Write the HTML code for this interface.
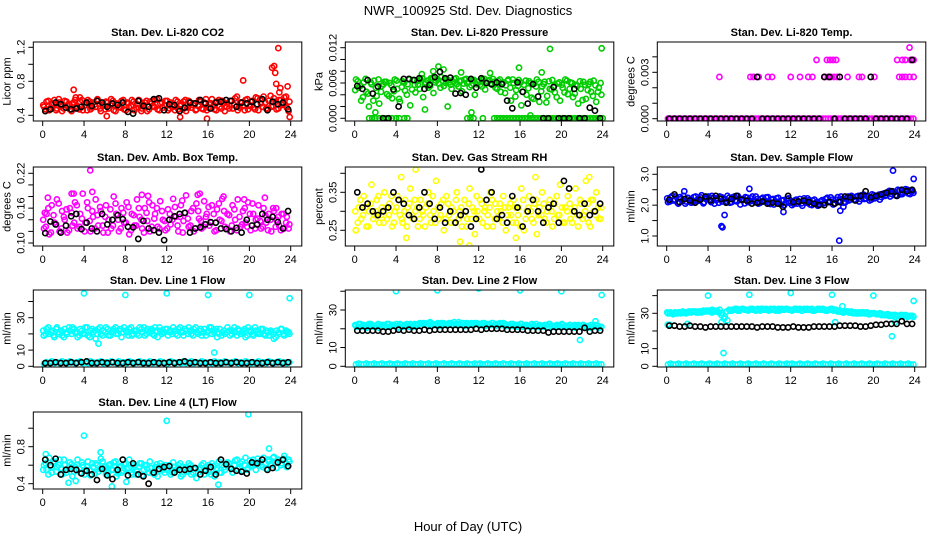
<!DOCTYPE html>
<html><head><meta charset="utf-8"><title>NWR_100925 Std. Dev. Diagnostics</title>
<style>
html,body{margin:0;padding:0;background:#fff;}
svg{display:block;font-family:"Liberation Sans",sans-serif;}
</style></head>
<body>
<svg id="chart" width="936" height="540" viewBox="0 0 936 540">
<text x="468" y="15" font-size="13" text-anchor="middle">NWR_100925  Std. Dev. Diagnostics</text>
<text x="468" y="531" font-size="13" text-anchor="middle">Hour of Day (UTC)</text>
</svg>
<script>
// ---- data ----
const xTicks = [0,4,8,12,16,20,24];

const co2Main = [.50,.56,.46,.53,.58,.48,.55,.45,.57,.51,.47,.54,.58,.49,.56,.46,.52,.58,.47,.55,.50,.57,.45,.53,.56,.48,.59,.46,.54,.50,.57,.47,.55,.49,.58,.46,.53,.57,.48,.55,.45,.56,.51,.58,.47,.54,.49,.57,.46,.55,.50,.58,.47,.53,.56,.45,.57,.49,.54,.47,.58,.48,.55,.46,.53,.59,.47,.56,.50,.57,.45,.54,.57,.48,.60,.46,.55,.51,.58,.47,.56,.49,.61,.46,.54,.62,.48,.57,.50,.60,.47,.58,.52,.61,.49,.56];
const co2Main2 = [.52,.47,.57,.49,.54,.46,.59,.51,.48,.56,.53,.45,.55,.50,.47,.58,.52,.46,.56,.49,.53,.59,.48,.51,.47,.55,.52,.57,.45,.53,.49,.58,.46,.54,.51,.56,.49,.58,.45,.52,.57,.47,.54,.50,.59,.46,.55,.52,.57,.48,.53,.46,.56,.51,.47,.58,.49,.55,.52,.46,.51,.56,.47,.59,.49,.54,.52,.46,.58,.48,.55,.50,.48,.57,.52,.62,.49,.55,.46,.59,.51,.57,.47,.60,.59,.50,.55,.47,.63,.51,.56,.48,.58,.53,.62,.45];
const co2OutT = [3,3.2,3.6,19.4,22.2,22.4,22.5,22.6,22.8,22.9,23.0,23.7,13.3,15.9,23.9,6.2];
const co2OutV = [.70,.61,.61,.81,.96,.98,.90,.77,1.19,.67,.72,.74,.38,.36,.38,.39];
const co2Black = [.45,.47,.55,.53,.49,.47,.48,.50,.55,.51,.57,.55,.50,.54,.52,.55,.44,.42,.57,.51,.50,.59,.60,.46,.53,.52,.45,.49,.55,.54,.58,.54,.48,.55,.56,.58,.57,.50,.55,.54,.56,.53,.59,.46,.56,.53,.55,.47];

const presMain = [.0066,.0052,.0030,.0061,.0045,.0020,.0058,.0064,.0038,.0025,.0055,.0062,.0041,.0060,.0034,.0066,.0050,.0028,.0063,.0047,.0058,.0022,.0065,.0044,.0057,.0066,.0036,.0061,.0052,.0068,.0043,.0064,.0059,.0070,.0055,.0066,.0061,.0050,.0067,.0058,.0063,.0046,.0066,.0060,.0053,.0065,.0040,.0062,.0057,.0066,.0049,.0063,.0059,.0067,.0052,.0064,.0045,.0061,.0056,.0066,.0030,.0060,.0048,.0065,.0022,.0057,.0040,.0063,.0035,.0059,.0066,.0028,.0054,.0062,.0038,.0050,.0065,.0044,.0059,.0030,.0052,.0066,.0041,.0061,.0036,.0057,.0025,.0050,.0062,.0033,.0058,.0045,.0064,.0028,.0052,.0040];
const presMain2 = [.0048,.0063,.0055,.0036,.0067,.0042,.0061,.0030,.0052,.0066,.0045,.0058,.0062,.0038,.0056,.0046,.0064,.0033,.0053,.0061,.0040,.0066,.0049,.0057,.0063,.0050,.0068,.0058,.0064,.0055,.0069,.0061,.0066,.0052,.0063,.0060,.0065,.0057,.0062,.0068,.0054,.0064,.0059,.0067,.0062,.0056,.0065,.0058,.0063,.0054,.0067,.0060,.0065,.0057,.0062,.0050,.0066,.0059,.0043,.0064,.0052,.0066,.0037,.0055,.0061,.0045,.0064,.0051,.0060,.0033,.0054,.0062,.0046,.0058,.0027,.0063,.0049,.0055,.0036,.0061,.0057,.0044,.0064,.0050,.0060,.0042,.0055,.0063,.0031,.0057,.0048,.0062,.0038,.0056,.0045,.0060];
const presZeroT = [1.4,1.7,2.0,2.4,2.7,3.0,3.3,3.6,4.0,4.3,4.8,5.1,10.9,11.2,11.5,12.4,13.5,13.8,14.1,14.4,14.7,15.0,15.3,15.6,15.9,16.2,16.5,16.8,17.1,17.4,17.7,18.0,18.3,18.6,18.9,19.2,19.5,19.8,20.1,20.4,20.7,21.0,21.3,21.6,21.9,22.2,22.5,22.8,23.1,23.4,23.7,24.0];
const presOutT = [6.5,7.6,8.1,8.6,10.3,13.1,15.9,18.1,18.9,23.9,2.0,6.8,9.0,11.3,17.0];
const presOutV = [.0075,.0080,.0088,.0083,.0078,.0077,.0086,.0078,.0118,.0119,.0010,.0015,.0020,.0010,.0005];
const presBlack = [.0055,.0050,.0065,.0042,.0054,.0000,.0000,.0049,.0020,.0067,.0067,.0065,.0068,.0050,.0057,.0070,.0079,.0068,.0069,.0042,.0043,.0040,.0067,.0052,.0068,.0060,.0058,.0061,.0058,.0030,.0017,.0061,.0045,.0025,.0058,.0037,.0000,.0000,.0053,.0000,.0000,.0000,.0050,.0000,.0000,.0018,.0013,.0000];

const tempMain = [0,0,0,0,0,0,0,0,0,0,0,0,0,0,0,0,0,0,0,0,0,0,0,0,0,0,0,0,0,0,0,0,0,0,0,0,0,0,0,0,0,0,0,0,0,0,0,0,0,0,0,0,0,0,0,0,0,0,0,0,0,0,0,0,0,0,0,0,0,0,0,0,0,0,0,0,0,0,0,0,0,0,0,0,0,0,0,0,0,0,0,0,0,0,0,0];
const tempLvlT = [5.1,8.1,8.4,8.9,9.8,10.2,12.0,12.9,13.7,14.1,15.3,15.6,15.9,16.2,16.5,17.5,18.6,18.9,20.1,22.5,22.8,23.1,23.5,23.9,14.5,15.5,15.8,16.1,16.4,22.3,22.8,23.1,23.6,23.9,23.5];
const tempLvlV = [.0027,.0027,.0027,.0027,.0027,.0027,.0027,.0027,.0027,.0027,.0027,.0027,.0027,.0027,.0027,.0027,.0027,.0027,.0027,.0027,.0027,.0027,.0027,.0027,.0038,.0038,.0038,.0038,.0038,.0038,.0038,.0038,.0038,.0038,.0046];
const tempBlack = [0,0,0,0,0,0,0,0,0,0,0,0,0,0,0,0,0,.0027,0,0,0,0,0,0,0,0,0,0,0,0,.0027,.0027,0,.0027,0,0,0,0,0,.0027,0,0,0,0,0,0,0,.0038];

const ambMain = [.125,.150,.115,.165,.135,.175,.120,.155,.140,.118,.160,.130,.170,.125,.150,.185,.135,.160,.120,.145,.175,.130,.155,.118,.165,.140,.125,.180,.150,.120,.160,.135,.170,.115,.150,.130,.175,.145,.125,.160,.138,.120,.165,.150,.128,.172,.140,.122,.158,.132,.176,.145,.120,.165,.138,.182,.128,.155,.120,.168,.142,.125,.172,.150,.130,.165,.120,.158,.140,.176,.128,.150,.120,.165,.140,.175,.128,.155,.135,.170,.122,.150,.140,.165,.125,.160,.135,.150,.120,.155,.140,.130,.150,.125,.145,.132];
const ambMain2 = [.140,.128,.160,.118,.148,.132,.168,.125,.145,.158,.122,.152,.135,.165,.128,.142,.120,.170,.138,.155,.125,.148,.162,.130,.145,.118,.158,.130,.168,.140,.125,.152,.135,.162,.122,.148,.130,.160,.140,.118,.152,.170,.128,.142,.160,.125,.155,.138,.125,.150,.140,.162,.130,.145,.118,.152,.142,.130,.160,.125,.155,.138,.128,.145,.162,.135,.150,.122,.168,.138,.155,.125,.148,.130,.158,.122,.145,.132,.160,.128,.150,.168,.125,.142,.138,.128,.148,.122,.140,.160,.128,.145,.122,.150,.135,.125];
const ambOutT = [.5,2.8,3.0,4.6,4.8,9.6,10.2,13.5,15.0,15.2,17.5,19.5,21.5,.2,22.6];
const ambOutV = [.178,.185,.185,.225,.188,.183,.181,.173,.183,.185,.180,.175,.178,.152,.160];
const ambBlack = [.117,.137,.132,.118,.130,.146,.150,.124,.135,.125,.120,.150,.132,.140,.148,.141,.128,.127,.107,.138,.125,.122,.118,.105,.140,.146,.150,.152,.118,.125,.127,.132,.136,.135,.125,.124,.120,.126,.118,.140,.130,.132,.150,.140,.145,.136,.125,.155];

const rhMain = [.25,.31,.28,.34,.26,.30,.37,.29,.33,.27,.31,.35,.28,.32,.26,.30,.34,.29,.27,.33,.31,.36,.28,.30,.26,.33,.29,.31,.35,.27,.30,.38,.28,.32,.25,.34,.29,.31,.27,.35,.30,.26,.33,.28,.36,.31,.24,.30,.33,.27,.31,.29,.35,.26,.32,.28,.30,.34,.25,.31,.29,.33,.27,.31,.36,.25,.30,.34,.28,.32,.24,.31,.35,.28,.30,.33,.26,.32,.29,.37,.27,.31,.34,.28,.30,.36,.26,.32,.29,.38,.27,.33,.30,.35,.28,.31];
const rhMain2 = [.30,.27,.33,.29,.31,.26,.32,.28,.30,.34,.29,.27,.31,.29,.34,.27,.31,.33,.28,.30,.26,.32,.29,.33,.31,.28,.30,.26,.32,.29,.34,.27,.31,.29,.33,.28,.32,.27,.30,.33,.28,.31,.29,.26,.32,.28,.30,.34,.28,.32,.30,.26,.31,.33,.28,.30,.32,.27,.31,.29,.32,.27,.31,.29,.26,.33,.28,.31,.30,.27,.33,.29,.29,.32,.27,.31,.30,.28,.34,.29,.31,.27,.30,.32,.27,.31,.29,.33,.28,.30,.32,.26,.33,.29,.31,.28];
const rhOutT = [4.5,5.9,11.1,15.6,17.5,10.2,.1,22.7,5.0];
const rhOutV = [.39,.41,.21,.23,.39,.22,.25,.39,.23];
const rhBlack = [.35,.31,.32,.30,.29,.30,.31,.35,.33,.32,.29,.28,.31,.35,.32,.28,.31,.27,.30,.27,.29,.30,.26,.28,.41,.33,.35,.28,.29,.27,.34,.31,.26,.30,.33,.30,.27,.31,.32,.27,.38,.36,.30,.29,.32,.29,.30,.32];

const sfMain = [2.10,2.25,2.15,2.28,2.05,2.20,2.30,2.12,2.22,2.08,2.26,2.15,2.20,2.32,2.10,2.24,2.18,2.30,2.05,2.22,2.28,2.12,2.20,2.30,2.08,2.25,2.15,2.30,2.02,2.20,2.26,2.10,2.22,2.15,2.28,2.05,2.20,2.12,2.25,2.08,2.18,2.02,2.22,2.10,2.15,2.00,2.20,2.08,2.00,2.15,2.05,2.20,1.98,2.12,2.22,2.02,2.15,2.05,1.98,2.12,2.05,2.20,2.10,2.25,2.02,2.18,2.12,2.28,2.08,2.22,2.15,2.30,2.18,2.28,2.12,2.32,2.20,2.30,2.15,2.35,2.22,2.30,2.18,2.36,2.30,2.42,2.28,2.45,2.32,2.50,2.35,2.40,2.52,2.38,2.45,2.40];
const sfMain2 = [2.22,2.12,2.30,2.18,2.08,2.26,2.15,2.05,2.24,2.18,2.10,2.28,2.14,2.25,2.06,2.20,2.28,2.10,2.24,2.16,2.08,2.26,2.18,2.12,2.24,2.10,2.28,2.12,2.22,2.16,2.06,2.24,2.12,2.28,2.10,2.20,2.08,2.24,2.14,2.26,2.04,2.20,2.12,2.24,2.02,2.16,2.08,2.22,2.12,2.04,2.18,2.10,2.06,2.22,2.08,2.16,2.00,2.18,2.10,2.04,2.16,2.08,2.24,2.12,2.18,2.06,2.26,2.14,2.20,2.10,2.28,2.18,2.26,2.16,2.30,2.20,2.34,2.22,2.28,2.18,2.32,2.24,2.34,2.26,2.38,2.32,2.46,2.36,2.42,2.30,2.48,2.36,2.44,2.50,2.36,2.46];
const sfOutT = [5.3,5.4,5.6,16.7,21.9,23.9,8.0,11.3,16.8,17.1,1.7];
const sfOutV = [1.32,1.28,1.68,.85,3.12,2.85,2.53,1.78,1.82,1.95,2.45];
const sfBlack = [2.18,2.35,2.10,2.20,2.15,2.08,2.18,2.28,2.15,2.30,2.20,2.08,2.20,2.30,2.18,2.15,2.05,2.08,2.12,2.05,2.08,2.05,1.95,2.30,2.10,2.12,2.15,2.10,2.05,2.00,2.00,2.10,2.05,2.10,2.28,2.25,2.15,2.30,2.45,2.25,2.30,2.35,2.40,2.45,2.30,2.50,2.45,2.50];

const l1Main = [19,23,20,22,18,24,21,19,23,20,22,24,21,18,23,20,24,19,22,21,17,23,20,22,24,19,21,23,20,22,18,24,21,23,19,22,20,24,21,19,23,22,20,24,18,22,21,23,19,22,24,20,23,21,19,22,24,20,23,21,22,19,23,21,24,20,22,18,23,21,20,24,19,22,21,23,20,22,18,24,21,19,22,20,23,20,22,19,21,17,22,20,23,19,21,20];
const l1Main2 = [22,20,24,21,19,23,20,22,18,21,24,20,23,21,19,22,20,24,18,23,22,20,24,19,21,23,19,22,24,20,23,21,22,19,24,20,22,19,23,24,20,21,23,19,22,24,20,21,23,21,20,22,19,24,21,23,20,22,19,24,20,23,21,19,22,24,21,23,20,19,22,21,22,20,24,19,22,21,23,19,22,20,24,21,20,23,19,21,22,20,18,21,23,20,22,21];
const l1Low = [1.5,2.5,2,3,2,2.5,2,3,2.5,2,3,2.5,2,2.5,3,2,2.5,2,3,2.5,2,2.5,3,2,2.5,2,3,2.5,2,3,2,2.5,2,3,2.5,2,2.5,3,2,2.5,2,3,2,2.5,2,3,2.5,2,2,3,2.5,2,2.5,2,3,2,2.5,3,2,2.5,2,3,2.5,2,2.5,2,3,2,2.5,2,3,2.5,2,2.5,3,2,2.5,2,3,2.5,2,2.5,2,3,2,2.5,2,3,2.5,2,2.5,3,2,2.5,2,2.5];
const l1OutT = [4,8,12,16,20,23.9,5.4,16.6,.1];
const l1OutV = [45,44,45,44,44,42,14,8.5,19];
const l1Black = [2,2,2.5,2,2,2.5,2,2.5,3,2,2,2.5,2,2.5,2,2,2.5,2,2.5,2,2,2.5,2,2,2.5,2,2.5,3,2,2.5,2,2,2.5,2,2,2.5,2,2.5,2,2,2.5,2,2,2.5,2,2.5,2,2.5];

const l2Main = [21.5,22.5,21,22,20.5,22.5,21.5,21,22,20.5,22,21.5,22.5,21,22,21.5,20.5,22.5,21,22,21.5,22.5,21,22,22.5,21.5,23,22,21.5,23,22,22.5,21.5,23,22,22.5,23,22,23.5,22,22.5,23,21.5,23,22.5,22,23,22.5,22,23,21.5,22.5,22,23,21.5,22.5,22,23,21.5,22,22.5,21.5,22,21,22.5,21.5,22,21,22.5,21.5,21,22,21.5,22,21,22.5,21,21.5,22,21,22,21.5,21,22,21.5,20.5,22,21,22,20.5,21.5,22,21,21.5,20.5,21];
const l2Main2 = [22,21,22.5,21.5,21,22,22.5,21.5,21,22.5,21,22,21,22.5,21.5,22,22.5,21,22,21.5,22.5,21,22,22.5,22,23,22.5,23,22,23.5,22.5,22,23,22.5,23,22,22.5,23,22,22.5,23.5,22,23,22,22.5,23,22,23,22.5,22,23,22,22.5,23,22,22.5,23,22,22.5,21.5,21.5,22.5,21,22,22.5,21,22,21.5,21,22,22.5,21,21.5,21,22,22.5,21.5,21,22,21.5,22.5,21,21.5,22,21,22,21.5,21,22,21.5,21,20.5,21,22,21.5,21];
const l2Low = [1,1.5,1,1,1.5,1,1,1.5,1,1,1.5,1,1,1.5,1,1,1.5,1,1,1.5,1,1,1.5,1,1,1.5,1,1,1.5,1,1,1.5,1,1,1.5,1,1,1.5,1,1,1.5,1,1,1.5,1,1,1.5,1,1.5,1,1,1.5,1,1,1.5,1,1,1.5,1,1,1.5,1,1,1.5,1,1,1.5,1,1,1.5,1,1,1.5,1,1,1.5,1,1,1.5,1,1,1.5,1,1,1.5,1,1,1.5,1,1,1.5,1,1,1.5,1,1];
const l2OutT = [4,8,12,16,20,23.9,21.8,23.3];
const l2OutV = [40,40.5,41.5,40.5,40,38,14,24];
const l2Black = [19,19,19,19,19,18.5,18.5,19,19.5,19,19.5,19,19,19.5,19,19.5,19.5,19.5,19.5,19.5,19.5,19.5,19.5,20,19.5,20,20,20,20,19.5,19.5,19.5,19.5,19,19,19,19,18,18.5,18.5,18.5,18.5,18.5,18.5,20.5,18.5,19,19];

const l3Main = [30,30.5,29.5,30,30.5,30,30.5,30,31,30.5,31,30.5,31,30.5,31,31.5,31,30.5,31,31.5,32,30,28,26,31.5,32,32.5,31.5,32,32.5,32,31.5,32.5,32,31.5,32,32.5,32,32.5,31.5,32,32.5,32,31.5,32.5,32,32.5,32,31.5,32.5,32,32.5,31.5,32,32.5,32,31.5,32,32.5,32,32.5,31.5,32,32.5,31.5,32,31.5,31,30.5,31,30.5,31,30.5,30,30.5,30.5,30,30.5,29.5,30,30,29.5,30,29.5,29,29.5,29,28.5,29,28.5,29,28.5,29,28.5,28.5,28];
const l3Main2 = [30.5,30,30,30.5,30,30.5,31,30.5,30.5,31,31,31,30.5,31,31.5,31,31.5,31,31.5,31,30.5,29,27,31,32,31.5,32,32.5,31.5,32.5,32,32,32,32.5,32,32.5,31.5,32.5,32,32,32.5,32,31.5,32.5,32,32,32.5,32,32,32,32.5,32,31.5,32.5,32,32,32.5,31.5,32,32.5,32,32,31.5,32,32.5,32,31,31,30.5,31,31,30.5,30,30.5,30,30,30.5,30,29.5,30,30,29.5,29.5,29,29,29,28.5,29,29,28.5,28.5,29,28.5,28,28.5,28.5];
const l3Low = [1,1.5,1,1,1.5,1,1,1.5,1,1,1.5,1,1,1.5,1,1,1.5,1,1,1.5,1,1,1.5,1,1,1.5,1,1,1.5,1,1,1.5,1,1,1.5,1,1,1.5,1,1,1.5,1,1,1.5,1,1,1.5,1,1.5,1,1,1.5,1,1,1.5,1,1,1.5,1,1,1.5,1,1,1.5,1,1,1.5,1,1,1.5,1,1,1.5,1,1,1.5,1,1,1.5,1,1,1.5,1,1,1.5,1,1,1.5,1,1,1.5,1,1,1.5,1,1];
const l3OutT = [4,8,12,16,20,23.9,5.5,5.3,17.0,21.8,16.3,22.1,.1,.3,2.0,4.4];
const l3OutV = [40,40.5,41.5,40.5,40,37,7.5,25,34,17,25,25,23.5,23.5,24,32];
const l3Black = [23,23,22.5,22.5,23,22.5,22.5,22,22.5,22.5,22.5,22.5,22.5,22.5,22.5,22.5,22.5,22,22.5,22.5,22.5,22,22,22,22.5,22,22,22,22.5,22.5,22.5,22.5,22.5,23,23,23,23,22.5,22.5,23,23.5,23.5,24,24,24,25.5,24,24];

const l4Main = [.60,.55,.68,.52,.62,.58,.66,.50,.60,.55,.63,.48,.58,.66,.52,.60,.55,.64,.49,.58,.62,.53,.67,.56,.50,.60,.55,.63,.48,.58,.52,.61,.56,.66,.50,.58,.54,.62,.49,.60,.56,.64,.52,.58,.48,.62,.55,.60,.57,.50,.63,.55,.60,.48,.58,.53,.62,.50,.57,.46,.56,.60,.50,.58,.53,.62,.48,.57,.52,.60,.55,.63,.58,.52,.65,.56,.62,.54,.68,.57,.60,.66,.55,.63,.60,.68,.56,.64,.60,.69,.57,.65,.62,.70,.58,.64];
const l4Main2 = [.55,.62,.50,.58,.64,.53,.60,.57,.66,.52,.58,.61,.53,.60,.56,.63,.50,.58,.55,.62,.51,.60,.56,.64,.58,.52,.61,.55,.64,.51,.59,.54,.62,.57,.52,.60,.50,.58,.62,.55,.60,.52,.57,.50,.61,.54,.59,.52,.55,.60,.52,.58,.56,.62,.50,.57,.54,.60,.52,.56,.52,.57,.62,.54,.60,.50,.59,.55,.64,.52,.58,.61,.62,.56,.60,.66,.58,.64,.60,.55,.65,.59,.62,.67,.64,.58,.62,.66,.61,.68,.63,.66,.60,.67,.62,.66];
const l4OutT = [4.0,12.0,19.9,2.5,6.7,17.0,5.6,21.9,.3,3.2,8.1];
const l4OutV = [.92,1.08,1.15,.41,.37,.39,.74,.78,.72,.43,.42];
const l4Black = [.66,.60,.67,.50,.55,.56,.55,.51,.54,.50,.44,.56,.49,.45,.55,.66,.49,.62,.50,.48,.40,.52,.56,.58,.59,.52,.55,.55,.56,.57,.50,.54,.58,.50,.66,.61,.56,.54,.53,.51,.63,.62,.66,.55,.57,.63,.66,.59];

// ---- layout ----
const rowBox = [[42,121],[167,246],[290,367],[412,489]];
const panels = [
 {name:'co2',title:'Stan. Dev. Li-820 CO2',ylab:'Licor ppm',col:0,row:0,color:'#ff0000',main:co2Main,main2:co2Main2,outT:co2OutT,outV:co2OutV,black:co2Black,
  v0:0.4,p0:115.3,v1:1.2,p1:47.3,ticks:[0.4,0.6,0.8,1.0,1.2],labels:['0.4','','0.8','','1.2']},
 {name:'pressure',title:'Stan. Dev. Li-820 Pressure',ylab:'kPa',col:1,row:0,color:'#00cd00',main:presMain,main2:presMain2,outT:presOutT,outV:presOutV,black:presBlack,zeroT:presZeroT,
  v0:0,p0:118.3,v1:0.012,p1:47.7,ticks:[0,.002,.004,.006,.008,.010,.012],labels:['0.000','','','0.006','','','0.012']},
 {name:'li820-temp',title:'Stan. Dev. Li-820 Temp.',ylab:'degrees C',col:2,row:0,color:'#ff00ff',main:tempMain,outT:tempLvlT,outV:tempLvlV,black:tempBlack,
  v0:0,p0:118.7,v1:0.003,p1:72.3,ticks:[0,.001,.002,.003,.004],labels:['0.000','','','0.003','']},
 {name:'amb-box-temp',title:'Stan. Dev. Amb. Box Temp.',ylab:'degrees C',col:0,row:1,color:'#ff00ff',main:ambMain,main2:ambMain2,outT:ambOutT,outV:ambOutV,black:ambBlack,
  v0:0.10,p0:243,v1:0.22,p1:173.3,ticks:[.10,.12,.14,.16,.18,.20,.22],labels:['0.10','','','0.16','','','0.22']},
 {name:'gas-stream-rh',title:'Stan. Dev. Gas Stream RH',ylab:'percent',col:1,row:1,color:'#ffff00',main:rhMain,main2:rhMain2,outT:rhOutT,outV:rhOutV,black:rhBlack,
  v0:0.25,p0:230.3,v1:0.35,p1:192.3,ticks:[.25,.30,.35,.40],labels:['0.25','','0.35','']},
 {name:'sample-flow',title:'Stan. Dev. Sample Flow',ylab:'ml/min',col:2,row:1,color:'#0000ff',main:sfMain,main2:sfMain2,outT:sfOutT,outV:sfOutV,black:sfBlack,
  v0:1.0,p0:236,v1:3.0,p1:174.3,ticks:[1.0,1.5,2.0,2.5,3.0],labels:['1.0','','2.0','','3.0']},
 {name:'line1-flow',title:'Stan. Dev. Line 1 Flow',ylab:'ml/min',col:0,row:2,color:'#00ffff',main:l1Main,main2:l1Main2,low:l1Low,outT:l1OutT,outV:l1OutV,black:l1Black,
  v0:0,p0:366.3,v1:30,p1:317.7,ticks:[0,10,20,30,40],labels:['0','10','','30','']},
 {name:'line2-flow',title:'Stan. Dev. Line 2 Flow',ylab:'ml/min',col:1,row:2,color:'#00ffff',main:l2Main,main2:l2Main2,low:l2Low,outT:l2OutT,outV:l2OutV,black:l2Black,
  v0:0,p0:366.3,v1:30,p1:310,ticks:[0,10,20,30,40],labels:['0','10','','30','']},
 {name:'line3-flow',title:'Stan. Dev. Line 3 Flow',ylab:'ml/min',col:2,row:2,color:'#00ffff',main:l3Main,main2:l3Main2,low:l3Low,outT:l3OutT,outV:l3OutV,black:l3Black,
  v0:0,p0:366.3,v1:30,p1:313.3,ticks:[0,10,20,30,40],labels:['0','10','','30','']},
 {name:'line4-flow',title:'Stan. Dev. Line 4 (LT) Flow',ylab:'ml/min',col:0,row:3,color:'#00ffff',main:l4Main,main2:l4Main2,outT:l4OutT,outV:l4OutV,black:l4Black,
  v0:0.4,p0:483.7,v1:0.8,p1:446.7,ticks:[.4,.6,.8,1.0],labels:['0.4','','0.8','']}
];

const NS = 'http://www.w3.org/2000/svg';
const svg = document.getElementById('chart');
function mk(tag, attrs, parent){
  const e = document.createElementNS(NS, tag);
  for (const k in attrs) e.setAttribute(k, attrs[k]);
  parent.appendChild(e);
  return e;
}

panels.forEach(p => {
  const bl = 33.3 + 312*p.col, br = bl + 268.5;
  const bt = rowBox[p.row][0], bb = rowBox[p.row][1];
  const x0 = bl + 9.4, xs = 248/24;
  const xf = t => x0 + t*xs;
  const yf = v => p.p0 + (v - p.v0)*(p.p1 - p.p0)/(p.v1 - p.v0);

  const g = mk('g', {}, svg);
  
  

  const clipId = 'clip-' + p.name;
  const cp = mk('clipPath', {id: clipId}, g);
  mk('rect', {x: bl, y: bt, width: br-bl, height: bb-bt}, cp);

  const title = mk('text', {x: (bl+br)/2, y: bt-6, 'font-size': 11, 'font-weight': 'bold', 'text-anchor': 'middle'}, g);
  title.textContent = p.title;
  
  

  const marks = mk('g', {'clip-path': 'url(#' + clipId + ')', fill: 'none', 'stroke-width': 1.6}, g);
  
  

  function dot(t, v, color, nm){
    const c = mk('circle', {cx: xf(t).toFixed(2), cy: yf(v).toFixed(2), r: 2.6, stroke: color}, marks);
    
    
  }
  p.main.forEach((v, i) => dot((i + 0.5) * 24 / p.main.length, v, p.color, p.name + '-point'));
  if (p.main2) p.main2.forEach((v, i) => dot(i * 24 / p.main2.length + 0.05, v, p.color, p.name + '-point'));
  if (p.low) p.low.forEach((v, i) => dot((i + 0.5) * 24 / p.low.length, v, p.color, p.name + '-low-point'));
  if (p.zeroT) p.zeroT.forEach(t => dot(t, 0, p.color, p.name + '-zero-point'));
  p.outT.forEach((t, i) => dot(t, p.outV[i], p.color, p.name + '-outlier'));
  p.black.forEach((v, i) => dot((i + 0.5) * 24 / p.black.length, v, '#000000', p.name + '-hourly-point'));

  const box = mk('rect', {x: bl, y: bt, width: br-bl, height: bb-bt, fill: 'none', stroke: '#000', 'stroke-width': 1}, g);
  
  

  const xa = mk('g', {stroke: '#000', 'stroke-width': 1}, g);
  
  
  xTicks.forEach(t => {
    const x = xf(t);
    mk('line', {x1: x, x2: x, y1: bb, y2: bb+5}, xa);
    const lb = mk('text', {x: x, y: bb+17, 'font-size': 11, 'text-anchor': 'middle', stroke: 'none', fill: '#000'}, xa);
    lb.textContent = t;
    
    
  });

  const ya = mk('g', {stroke: '#000', 'stroke-width': 1}, g);
  
  
  p.ticks.forEach((v, i) => {
    const y = yf(v);
    mk('line', {x1: bl-5, x2: bl, y1: y, y2: y}, ya);
    if (p.labels[i]) {
      const lb = mk('text', {x: 0, y: 0, 'font-size': 11, 'text-anchor': 'middle', stroke: 'none', fill: '#000',
        transform: 'translate(' + (bl-9) + ',' + y + ') rotate(-90)'}, ya);
      lb.textContent = p.labels[i];
      
      
    }
  });
  const yt = mk('text', {x: 0, y: 0, 'font-size': 11, 'text-anchor': 'middle',
    transform: 'translate(' + (bl-23) + ',' + ((bt+bb)/2) + ') rotate(-90)'}, g);
  yt.textContent = p.ylab;
  
  
});
</script>
</body></html>
